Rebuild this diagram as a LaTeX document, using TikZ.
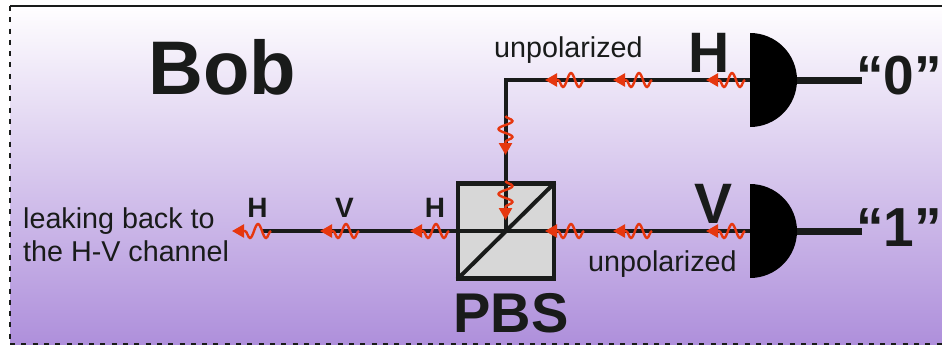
\documentclass[tikz,border=0pt]{standalone}
\usepackage{fontspec}
\setmainfont{Liberation Sans}
\usetikzlibrary{arrows.meta,decorations.pathmorphing}

\definecolor{inktone}{RGB}{25,27,26}
\definecolor{photontone}{RGB}{230,55,15}
\definecolor{toptone}{RGB}{255,254,255}
\definecolor{midtone}{RGB}{222,210,245}
\definecolor{bottomtone}{RGB}{174,143,219}
\definecolor{cubetone}{RGB}{215,215,215}

\tikzset{
  wire/.style = {inktone, line width=4pt},
  outwire/.style = {inktone, line width=7pt},
  detector/.style = {fill=black},
  photon/.style = {photontone, line width=2.4pt, decorate,
    decoration = {snake, segment length=16pt, amplitude=7pt, post length=7pt, pre length=0pt},
    -{Triangle[length=12pt,width=13pt]}},
  biglabel/.style = {inktone, inner sep=0pt, anchor=base, font=\bfseries\fontsize{57}{57}\selectfont},
  outlabel/.style = {inktone, inner sep=0pt, anchor=base west, font=\bfseries\fontsize{55}{55}\selectfont},
  smalllabel/.style = {inktone, inner sep=0pt, anchor=base, font=\bfseries\fontsize{28}{28}\selectfont},
  plainlabel/.style = {inktone, inner sep=0pt, anchor=base west, font=\fontsize{28.7}{28.7}\selectfont}
}

\begin{document}
\begin{tikzpicture}[x=1pt,y=-1pt]
  \useasboundingbox (0,0) rectangle (942,345);

  % background of the box
  \shade[top color=toptone, middle color=midtone, bottom color=bottomtone] (10,6) rectangle (942,345);

  % box border, solid on top and dashed on the left and below
  \draw[inktone, line width=2.4pt] (10,6) -- (942,6);
  \draw[inktone, line width=2.4pt, dash pattern=on 5pt off 6.3pt] (10,6) -- (10,345);
  \draw[inktone, line width=2.4pt, dash pattern=on 5pt off 6.3pt] (10,344) -- (942,344);

  \coordinate (detH) at (750,80);
  \coordinate (detV) at (750,231);
  \coordinate (bend) at (505.5,80);
  \coordinate (leak) at (262,231);
  \coordinate (outH) at (862,80);
  \coordinate (outV) at (862,231);

  % beam splitter cube
  \node[draw=inktone, fill=cubetone, line width=4.5pt, minimum width=96pt, minimum height=95pt, inner sep=0pt] (pbs) at (506,231) {};
  \draw[wire, shorten >=2pt, shorten <=2pt] (pbs.south west) -- (pbs.north east);

  % beams
  \draw[wire, line join=miter] (detH) -- (bend) -- (bend |- pbs.center);
  \draw[wire] (detV) -- (leak);

  % detectors
  \draw[outwire] (detH) -- (outH);
  \draw[outwire] (detV) -- (outV);
  \fill[detector] ([yshift=-47pt]detH) arc[start angle=-90, end angle=90, radius=47pt] -- cycle;
  \fill[detector] ([yshift=-47pt]detV) arc[start angle=-90, end angle=90, radius=47pt] -- cycle;

  % photons along the horizontal beams
  \foreach \tipx/\tipy in {545/80, 613/80, 706/80, 232/231, 320/231, 410/231, 545/231, 613/231, 706/231}
  {
    \coordinate (tip) at (\tipx,\tipy);
    \coordinate (tail) at (\tipx+39,\tipy);
    \draw[photon] (tail) -- (tip);
  }
  % photons along the vertical beam
  \foreach \tipy in {155, 220}
  {
    \coordinate (tip) at (505.5,\tipy);
    \coordinate (tail) at (505.5,\tipy-39);
    \draw[photon] (tail) -- (tip);
  }

  % labels
  \node[inktone, inner sep=0pt, anchor=base west, font=\bfseries\fontsize{76}{76}\selectfont] (bob) at (148,95) {Bob};
  \node[biglabel] (labH) at (709.5,72) {H};
  \node[biglabel] (labV) at (713,223) {V};
  \node[biglabel, font=\bfseries\fontsize{56}{56}\selectfont] (labPBS) at (511,332) {PBS};
  \node[outlabel] (zero) at (856,95) {“0"};
  \node[outlabel] (one) at (856,246) {“1"};
  \node[smalllabel] (pass1) at (257.5,217) {H};
  \node[smalllabel] (pass2) at (344.5,217) {V};
  \node[smalllabel] (pass3) at (435,217) {H};
  \node[plainlabel] (unpolH) at (494,58) {unpolarized};
  \node[plainlabel] (unpolV) at (588,271) {unpolarized};
  \node[plainlabel] (leak1) at (23,228) {leaking back to};
  \node[plainlabel] (leak2) at (23,261) {the H-V channel};
\end{tikzpicture}
\end{document}
